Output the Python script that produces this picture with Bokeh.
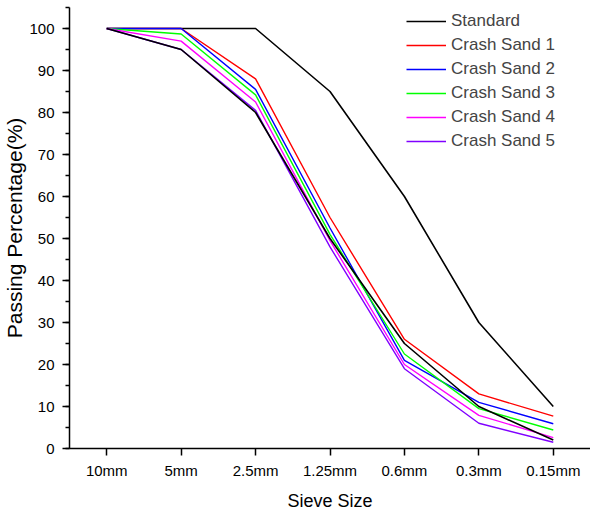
from bokeh.plotting import figure
from bokeh.models import FixedTicker, SingleIntervalTicker, Legend, LegendItem, Range1d
from bokeh.embed import file_html
from bokeh.resources import INLINE

sieve_labels = ["10mm", "5mm", "2.5mm", "1.25mm", "0.6mm", "0.3mm", "0.15mm"]
standard_upper = [100, 100, 100, 85, 60, 30, 10]
standard_lower = [100, 95, 80, 50, 25, 10, 2]
crash_sand_1 = [100, 100, 88, 55, 26, 13, 7.7]
crash_sand_2 = [100, 100, 85.5, 52.5, 21, 11, 5.9]
crash_sand_3 = [100, 98.7, 84.2, 51, 22.5, 9.5, 4.4]
crash_sand_4 = [100, 97, 82.5, 49.5, 20, 7.9, 2.6]
crash_sand_5 = [100, 95, 80.5, 48, 19, 6, 1.5]

series_names = ["Crash Sand 1", "Crash Sand 2", "Crash Sand 3", "Crash Sand 4", "Crash Sand 5"]
series_values = [crash_sand_1, crash_sand_2, crash_sand_3, crash_sand_4, crash_sand_5]
series_colors = ["#FF0000", "#0000FF", "#00FF00", "#FF00FF", "#8000FF"]

xs = list(range(len(sieve_labels)))

p = figure(width=590, height=513, output_backend="svg", toolbar_location=None,
           x_range=Range1d(-0.5, 6.5), y_range=Range1d(0, 105),
           min_border_left=69, min_border_right=0, min_border_top=7, min_border_bottom=65)
p.outline_line_color = None
p.xgrid.visible = False
p.ygrid.visible = False
p.background_fill_color = "white"
p.border_fill_color = "white"

FONT = "Liberation Sans"

items = []
r0 = p.line(xs, standard_upper, line_color="black", line_width=1.6)
items.append(LegendItem(label="Standard", renderers=[r0]))
for name, vals, col in zip(series_names, series_values, series_colors):
    r = p.line(xs, vals, line_color=col, line_width=1.4)
    items.append(LegendItem(label=name, renderers=[r]))
p.line(xs, standard_lower, line_color="black", line_width=1.6)

legend = Legend(items=items, location=(337, 295), border_line_color=None,
                background_fill_alpha=0, padding=0, margin=0, spacing=0,
                glyph_width=40, glyph_height=24, label_height=24, label_standoff=5,
                label_text_font=FONT, label_text_font_size="17px")
p.add_layout(legend, "center")

# x axis
p.xaxis.ticker = FixedTicker(ticks=xs)
p.xaxis.major_label_overrides = {i: lab for i, lab in enumerate(sieve_labels)}
p.xaxis.minor_tick_line_color = None
p.xaxis.axis_label = "Sieve Size"

# y axis
p.yaxis.ticker = SingleIntervalTicker(interval=10, num_minor_ticks=2)
p.yaxis.axis_label = "Passing Percentage(%)"

for ax in (p.xaxis[0], p.yaxis[0]):
    ax.axis_line_color = "black"
    ax.axis_line_width = 1.5
    ax.major_tick_in = 0
    ax.major_tick_out = 7
    ax.minor_tick_in = 0
    ax.minor_tick_out = 4
    ax.major_tick_line_width = 1.5
    ax.minor_tick_line_width = 1.5
    ax.major_label_text_font = FONT
    ax.major_label_text_font_size = "15px"
    ax.major_label_text_color = "black"
    ax.axis_label_text_font = FONT
    ax.axis_label_text_font_style = "normal"
    ax.axis_label_text_color = "black"

p.xaxis.major_label_standoff = 6
p.yaxis.major_label_standoff = 8
p.xaxis.axis_label_text_font_size = "18px"
p.xaxis.axis_label_standoff = 9
p.yaxis.axis_label_text_font_size = "21px"
p.yaxis.axis_label_standoff = 0

open("out.html", "w").write(file_html(p, INLINE))
